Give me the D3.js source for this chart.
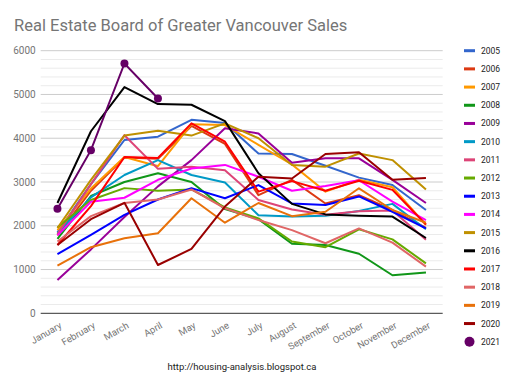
<!DOCTYPE html>
<html>
<head>
<meta charset="utf-8">
<script src="https://cdnjs.cloudflare.com/ajax/libs/d3/7.8.5/d3.min.js"></script>
<style>
  body { margin: 0; background: #fff; }
  svg { font-family: Roboto, Arial, sans-serif; }
</style>
</head>
<body>
<svg width="512" height="377"></svg>
<script>
// подписи по оси OX
const months = ["January", "February", "March", "April", "May", "June",
  "July", "August", "September", "October", "November", "December"];
const years = ["2005", "2006", "2007", "2008", "2009", "2010", "2011", "2012",
  "2013", "2014", "2015", "2016", "2017", "2018", "2019", "2020", "2021"];
const yTicks = [0, 1000, 2000, 3000, 4000, 5000, 6000];

// продажи по месяцам для каждого года
const sales2005 = [1850, 2950, 3960, 4035, 4420, 4350, 3650, 3640, 3370, 3100, 2930, 2360];
const sales2006 = [1780, 2800, 3560, 3530, 4280, 3870, 2700, 3050, 2510, 2700, 2360, 1950];
const sales2007 = [1900, 2850, 3570, 3360, 4320, 4300, 3850, 3400, 2780, 3050, 2880, 2020];
const sales2008 = [1700, 2680, 3000, 3200, 3000, 2380, 2150, 1590, 1560, 1360, 870, 930];
const sales2009 = [760, 1460, 2200, 2900, 3500, 4230, 4110, 3440, 3540, 3540, 3050, 2520];
const sales2010 = [1830, 2650, 3160, 3500, 3160, 2990, 2240, 2210, 2230, 2340, 2500, 1920];
const sales2011 = [1810, 2950, 4070, 3300, 3350, 3270, 2590, 2370, 2250, 2330, 2350, 1680];
const sales2012 = [1960, 2590, 2860, 2800, 2830, 2420, 2170, 1640, 1510, 1920, 1690, 1140];
const sales2013 = [1350, 1790, 2250, 2600, 2860, 2630, 2930, 2510, 2475, 2670, 2320, 1940];
const sales2014 = [1780, 2550, 2640, 3050, 3310, 3390, 3120, 2800, 2910, 3040, 2550, 2130];
const sales2015 = [1950, 3050, 4060, 4170, 4060, 4340, 4000, 3390, 3350, 3650, 3500, 2830];
const sales2016 = [2520, 4160, 5170, 4780, 4765, 4390, 3200, 2500, 2260, 2230, 2210, 1720];
const sales2017 = [1560, 2450, 3570, 3550, 4340, 3920, 2780, 3020, 2800, 3030, 2820, 2030];
const sales2018 = [1640, 2220, 2520, 2600, 2830, 2400, 2130, 1900, 1600, 1940, 1615, 1066];
const sales2019 = [1090, 1510, 1714, 1830, 2630, 2070, 2520, 2220, 2320, 2856, 2360, 2070];
const sales2020 = [1560, 2150, 2525, 1104, 1470, 2440, 3120, 3080, 3640, 3680, 3050, 3090];
const sales2021 = [2389, 3727, 5708, 4908];

const allSales = [sales2005, sales2006, sales2007, sales2008, sales2009, sales2010,
  sales2011, sales2012, sales2013, sales2014, sales2015, sales2016, sales2017,
  sales2018, sales2019, sales2020, sales2021];
const colors = ["#3366cc", "#dc3912", "#ff9900", "#109618", "#990099", "#0099c6",
  "#dd4477", "#66aa00", "#0000ff", "#ff00ff", "#bf9000", "#000000", "#ff0000",
  "#e06666", "#e8710a", "#990000", "#660066"];

function drawGraph() {
  const svg = d3.select("svg");
  // область вывода графика
  const area = { left: 40.7, right: 442.7, top: 50.7, bottom: 313.3 };

  const scX = d3.scaleBand().domain(months).range([area.left, area.right]);
  const scY = d3.scaleLinear().domain([0, 6000]).range([area.bottom, area.top]);
  const cx = m => scX(m) + scX.bandwidth() / 2;

  // заголовок
  svg.append("text")
    .attr("x", 14).attr("y", 31)
    .style("font-size", "16.5px").style("fill", "#757575")
    .text("Real Estate Board of Greater Vancouver Sales");

  // мелкая сетка через 200
  const minor = d3.range(200, 6000, 200).filter(v => v % 1000 !== 0);
  svg.append("g").selectAll("line").data(minor).enter().append("line")
    .attr("x1", area.left).attr("x2", area.right)
    .attr("y1", d => scY(d)).attr("y2", d => scY(d))
    .style("stroke", "#ebebeb").style("stroke-width", 1);
  svg.append("g").selectAll("line").data(yTicks.slice(1)).enter().append("line")
    .attr("x1", area.left).attr("x2", area.right)
    .attr("y1", d => scY(d)).attr("y2", d => scY(d))
    .style("stroke", "#cccccc").style("stroke-width", 1);

  // ось OY
  const axisY = svg.append("g")
    .attr("transform", `translate(${area.left}, 0)`)
    .call(d3.axisLeft(scY).tickValues(yTicks).tickSize(0).tickPadding(5).tickFormat(d3.format("d")));
  axisY.select(".domain").remove();
  axisY.selectAll("text").style("font-size", "10px").style("fill", "#757575")
    .style("font-family", "Roboto, Arial, sans-serif");

  // ось OX - наклонные подписи
  const axisX = svg.append("g")
    .attr("transform", `translate(0, ${area.bottom})`)
    .call(d3.axisBottom(scX).tickSize(0));
  axisX.select(".domain").remove();
  axisX.selectAll("text")
    .style("text-anchor", "end").style("font-size", "9.5px").style("fill", "#757575")
    .style("font-family", "Roboto, Arial, sans-serif")
    .attr("y", 0).attr("dy", 0)
    .attr("transform", "translate(5, 14) rotate(-30)");

  // нулевая линия
  svg.append("line")
    .attr("x1", area.left).attr("x2", area.right)
    .attr("y1", scY(0)).attr("y2", scY(0))
    .style("stroke", "#333").style("stroke-width", 1);

  // линии по годам
  const line = d3.line().x((d, i) => cx(months[i])).y(d => scY(d));
  allSales.forEach((vals, k) => {
    if (years[k] === "2021") return;
    svg.append("path").datum(vals)
      .attr("d", line)
      .style("fill", "none").style("stroke", colors[k]).style("stroke-width", 2)
      .style("stroke-linejoin", "round");
  });
  // 2021 - линия с точками
  svg.append("path").datum(sales2021)
    .attr("d", line)
    .style("fill", "none").style("stroke", colors[16]).style("stroke-width", 2);
  svg.selectAll(".dot").data(sales2021).enter().append("circle")
    .attr("cx", (d, i) => cx(months[i])).attr("cy", d => scY(d))
    .attr("r", 4).style("fill", colors[16]);

  // легенда
  const leg = svg.append("g");
  years.forEach((yr, k) => {
    const y = 50.7 + k * 18.19;
    if (yr === "2021") {
      leg.append("circle").attr("cx", 469.5).attr("cy", y).attr("r", 5).style("fill", colors[k]);
    } else {
      leg.append("rect").attr("x", 464).attr("y", y - 1.5).attr("width", 11).attr("height", 3)
        .style("fill", colors[k]);
    }
    leg.append("text").attr("x", 481).attr("y", y + 3)
      .style("font-size", "8.5px").style("fill", "#222").text(yr);
  });

  // подпись внизу
  svg.append("text")
    .attr("x", 242).attr("y", 370).attr("text-anchor", "middle")
    .style("font-size", "9.5px").style("fill", "#222")
    .text("http://housing-analysis.blogspot.ca");
}

drawGraph();
</script>
</body>
</html>
